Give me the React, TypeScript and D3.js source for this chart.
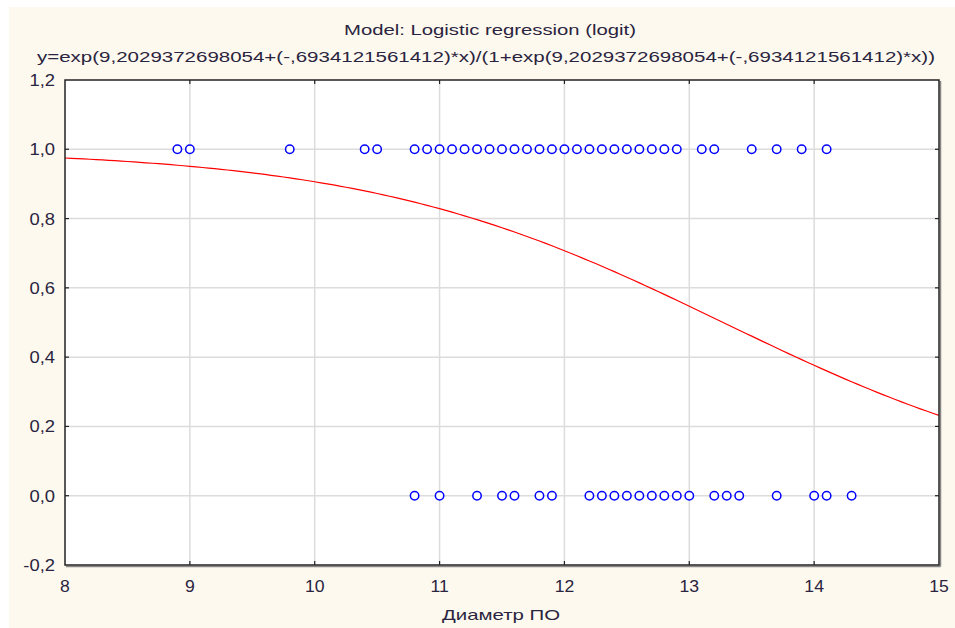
import React from 'react';
import * as d3 from 'd3';

// model coefficients shown in the title
const B0 = 9.2029372698054;
const B1 = -0.6934121561412;

// observed diameters, outcome = 1
const xOnes = [8.9, 9.0, 9.8, 10.4, 10.5, 10.8, 10.9, 11.0, 11.1, 11.2, 11.3, 11.4, 11.5, 11.6, 11.7, 11.8, 11.9,
  12.0, 12.1, 12.2, 12.3, 12.4, 12.5, 12.6, 12.7, 12.8, 12.9, 13.1, 13.2, 13.5, 13.7, 13.9, 14.1];
// observed diameters, outcome = 0
const xZeros = [10.8, 11.0, 11.3, 11.5, 11.6, 11.8, 11.9, 12.2, 12.3, 12.4, 12.5, 12.6, 12.7, 12.8, 12.9,
  13.0, 13.2, 13.3, 13.4, 13.7, 14.0, 14.1, 14.3];

const xTicks = [8, 9, 10, 11, 12, 13, 14, 15];
const yTicks = [-0.2, 0, 0.2, 0.4, 0.6, 0.8, 1.0, 1.2];

const title1 = 'Model: Logistic regression (logit)';
const title2 = 'y=exp(9,2029372698054+(-,6934121561412)*x)/(1+exp(9,2029372698054+(-,6934121561412)*x))';
const xLabel = 'Диаметр ПО';

const W = 955;
const H = 628;
const m = { left: 65, right: 939, top: 80, bottom: 565 };
const font = 'Arial, "Liberation Sans", sans-serif';
const ink = '#2a2440';

export default function App() {
  const x = d3.scaleLinear().domain([8, 15]).range([m.left, m.right]);
  const y = d3.scaleLinear().domain([-0.2, 1.2]).range([m.bottom, m.top]);
  const fmt = (v: number) => d3.format('.1f')(v).replace('.', ',').replace('−', '-');

  const curveX = d3.range(8, 15.0001, 0.05);
  const logit = (v: number) => Math.exp(B0 + B1 * v) / (1 + Math.exp(B0 + B1 * v));
  const line = d3.line<number>().x(d => x(d)).y(d => y(logit(d)));

  const points = [
    ...xOnes.map(v => ({ v, o: 1 })),
    ...xZeros.map(v => ({ v, o: 0 })),
  ];

  return (
    <svg width={W} height={H} style={{ position: 'absolute', left: 0, top: 0 }}>
      <rect x={0} y={0} width={W} height={H} fill="#fff" />
      <rect x={9} y={7} width={W - 9} height={H - 7} fill="#fef9ee" />
      <text x={490} y={35} textAnchor="middle" fontFamily={font} fontSize={14} fill={ink}
        textLength={292} lengthAdjust="spacingAndGlyphs">{title1}</text>
      <text x={486} y={62} textAnchor="middle" fontFamily={font} fontSize={15} fill={ink}
        textLength={898} lengthAdjust="spacingAndGlyphs">{title2}</text>

      <rect x={m.left} y={m.top} width={m.right - m.left} height={m.bottom - m.top} fill="#fff" />
      {/* grid */}
      {xTicks.slice(1, -1).map(t => (
        <line key={'gx' + t} x1={x(t)} x2={x(t)} y1={m.top} y2={m.bottom} stroke="#dcdcdc" strokeWidth={1.5} />
      ))}
      {yTicks.slice(1, -1).map(t => (
        <line key={'gy' + t} x1={m.left} x2={m.right} y1={y(t)} y2={y(t)} stroke="#dcdcdc" strokeWidth={1.5} />
      ))}
      {/* ticks, inward */}
      {xTicks.slice(1, -1).map(t => (
        <g key={'tx' + t}>
          <line x1={x(t)} x2={x(t)} y1={m.bottom} y2={m.bottom - 4} stroke="#222" strokeWidth={1.2} />
          <line x1={x(t)} x2={x(t)} y1={m.top} y2={m.top + 4} stroke="#222" strokeWidth={1.2} />
        </g>
      ))}
      {yTicks.slice(1, -1).map(t => (
        <g key={'ty' + t}>
          <line x1={m.left} x2={m.left + 4} y1={y(t)} y2={y(t)} stroke="#222" strokeWidth={1.2} />
          <line x1={m.right} x2={m.right - 4} y1={y(t)} y2={y(t)} stroke="#222" strokeWidth={1.2} />
        </g>
      ))}

      <path d={line(curveX) || ''} fill="none" stroke="#ff0000" strokeWidth={1.2} />

      {points.map((p, i) => (
        <circle key={i} cx={x(p.v)} cy={y(p.o)} r={4.2} fill="#fff" stroke="#0000ff" strokeWidth={1.5} />
      ))}

      {/* frame */}
      <line x1={m.right + 1.5} x2={m.right + 1.5} y1={m.top + 1} y2={m.bottom + 1.5} stroke="#888" strokeWidth={1.5} />
      <line x1={m.left + 1} x2={m.right + 1.5} y1={m.bottom + 1.5} y2={m.bottom + 1.5} stroke="#888" strokeWidth={1.5} />
      <rect x={m.left} y={m.top} width={m.right - m.left} height={m.bottom - m.top} fill="none" stroke="#222" strokeWidth={1.5} />

      {/* tick labels */}
      {yTicks.map(t => (
        <text key={'ly' + t} transform={`translate(55,${y(t) + 6}) scale(1.15,1)`} textAnchor="end"
          fontFamily={font} fontSize={16} fill={ink}>{fmt(t)}</text>
      ))}
      {xTicks.map(t => (
        <text key={'lx' + t} transform={`translate(${x(t)},${592}) scale(1.1,1)`} textAnchor="middle"
          fontFamily={font} fontSize={16} fill={ink}>{t}</text>
      ))}
      <text x={501} y={620} textAnchor="middle" fontFamily={font} fontSize={15} fill={ink}
        textLength={118} lengthAdjust="spacingAndGlyphs">{xLabel}</text>
    </svg>
  );
}
